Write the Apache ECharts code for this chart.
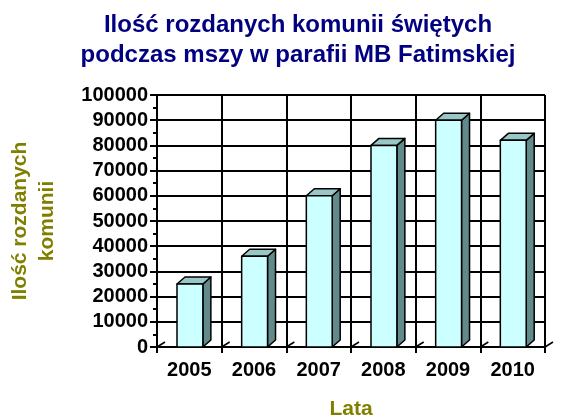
<!DOCTYPE html>
<html>
<head>
<meta charset="utf-8">
<script src="https://cdn.jsdelivr.net/npm/echarts@6/dist/echarts.min.js"></script>
<style>html,body{margin:0;padding:0;background:#fff}#c{width:570px;height:419px}</style>
</head>
<body>
<div id="c"></div>
<script>
const categories = ['2005', '2006', '2007', '2008', '2009', '2010'];
const values = [25000, 36000, 60000, 80000, 90000, 82000];
const yTicks = { min: 0, max: 100000, interval: 10000 };
const titleText = 'Ilość rozdanych komunii świętych\npodczas mszy w parafii MB Fatimskiej';
const yName = 'Ilość rozdanych\nkomunii';
const xName = 'Lata';

const FONT = "'Liberation Sans', Arial, sans-serif";
const chart = echarts.init(document.getElementById('c'), null, { renderer: 'canvas' });

function renderBar(params, api) {
  const idx = api.value(0);
  const val = api.value(1);
  const top = api.coord([idx, val]);
  const base = api.coord([idx, 0]);
  const band = api.size([1, 0])[0];
  const w = band * 0.4;
  const cx = top[0] + 0.6;
  const x0 = cx - w / 2, x1 = cx + w / 2;
  const yt = top[1], yb = base[1];
  const dx = 8, dy = 7;
  const stroke = { stroke: '#000', lineWidth: 1.5, lineJoin: 'round' };
  const children = [];
  const lb = top[0] - band / 2;
  children.push({ type: 'line', shape: { x1: lb, y1: yb, x2: lb + 8, y2: yb - 5 }, style: { stroke: '#000', lineWidth: 1.5 } });
  if (idx === categories.length - 1) {
    const rb = top[0] + band / 2;
    children.push({ type: 'line', shape: { x1: rb, y1: yb, x2: rb + 8, y2: yb - 5 }, style: { stroke: '#000', lineWidth: 1.5 } });
  }
  children.push({ type: 'polygon', shape: { points: [[x1, yb], [x1 + dx, yb - dy], [x1 + dx, yt - dy], [x1, yt]] }, style: Object.assign({ fill: '#628a8a' }, stroke) });
  children.push({ type: 'polygon', shape: { points: [[x0, yt], [x0 + dx, yt - dy], [x1 + dx, yt - dy], [x1, yt]] }, style: Object.assign({ fill: '#99c6c6' }, stroke) });
  children.push({ type: 'rect', shape: { x: x0, y: yt, width: w, height: yb - yt }, style: Object.assign({ fill: '#ccffff' }, stroke) });
  return { type: 'group', children };
}

chart.setOption({
  backgroundColor: '#fff',
  animation: false,
  title: {
    text: titleText,
    left: 293,
    top: 5,
    textAlign: 'center',
    textStyle: { fontFamily: FONT, fontSize: 24, fontWeight: 'bold', color: '#000080', lineHeight: 30 }
  },
  grid: { left: 157, right: 25, top: 95, bottom: 72, containLabel: false, outerBoundsMode: 'none' },
  xAxis: {
    type: 'category',
    data: categories,
    boundaryGap: true,
    name: xName,
    nameLocation: 'middle',
    nameGap: 52,
    nameTextStyle: { fontFamily: FONT, fontSize: 21, fontWeight: 'bold', color: '#808000' },
    axisLine: { show: true, lineStyle: { color: '#000', width: 2 } },
    axisTick: { show: true, length: 6, lineStyle: { color: '#000', width: 2 } },
    axisLabel: { fontFamily: FONT, fontSize: 20, fontWeight: 'bold', color: '#000', margin: 13 },
    splitLine: { show: true, lineStyle: { color: '#000', width: 2 } }
  },
  yAxis: {
    type: 'value',
    min: yTicks.min,
    max: yTicks.max,
    interval: yTicks.interval,
    name: yName,
    nameLocation: 'middle',
    nameRotate: 90,
    nameGap: 96,
    nameTextStyle: { fontFamily: FONT, fontSize: 21, fontWeight: 'bold', color: '#808000', lineHeight: 27, align: 'center' },
    axisLine: { show: true, lineStyle: { color: '#000', width: 2 } },
    axisTick: { show: true, length: 7, lineStyle: { color: '#000', width: 2 } },
    minorTick: { show: true, splitNumber: 2, length: 4, lineStyle: { color: '#000', width: 2 } },
    axisLabel: { fontFamily: FONT, fontSize: 20, fontWeight: 'bold', color: '#000', margin: 9, formatter: v => String(v) },
    splitLine: { show: true, lineStyle: { color: '#000', width: 2 } }
  },
  series: [{
    type: 'custom',
    renderItem: renderBar,
    data: categories.map((c, i) => [i, values[i]]),
    encode: { x: 0, y: 1 },
    clip: false,
    z: 5
  }]
});
</script>
</body>
</html>
